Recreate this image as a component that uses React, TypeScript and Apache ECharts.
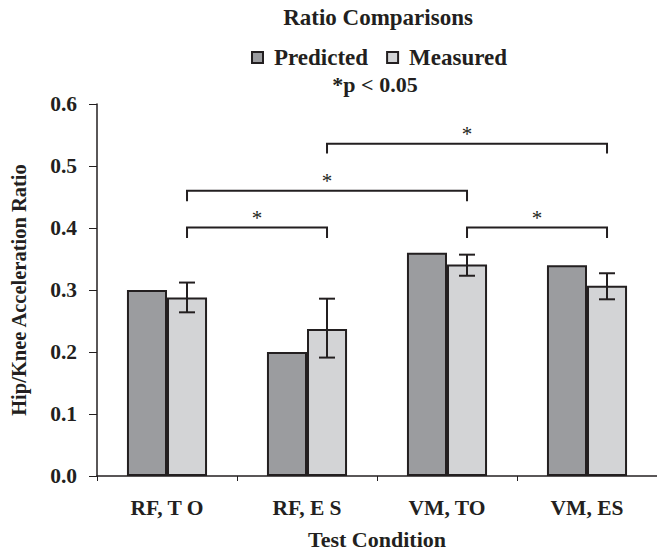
import React, { useEffect, useRef } from "react";
import * as echarts from "echarts";

const categories = ["RF, T O", "RF, E S", "VM, TO", "VM, ES"];
const predicted = [0.3, 0.2, 0.36, 0.34];
const measured = [0.288, 0.237, 0.341, 0.307];
const errLow = [0.264, 0.191, 0.323, 0.285];
const errHigh = [0.312, 0.286, 0.357, 0.327];
// [fromCategory, toCategory, bracketY, dropY]
const brackets = [
  [0, 1, 0.401, 0.384],
  [2, 3, 0.401, 0.384],
  [0, 2, 0.46, 0.443],
  [1, 3, 0.536, 0.52],
];
const yMin = 0;
const yMax = 0.6;
const yInterval = 0.1;

const FONT = "'Liberation Serif', 'Times New Roman', serif";
const INK = "#231f20";
const OFFSET = 0.143;

export default function App() {
  const ref = useRef<HTMLDivElement>(null);
  useEffect(() => {
    if (!ref.current) return;
    const chart = echarts.init(ref.current, null, { renderer: "svg" });
    const errData = categories.map((_, i) => [i, errLow[i], errHigh[i]]);
    chart.setOption({
      animation: false,
      backgroundColor: "#ffffff",
      textStyle: { fontFamily: FONT },
      title: [
        {
          text: "Ratio Comparisons",
          left: 378,
          top: 6,
          textAlign: "center",
          padding: 0,
          textStyle: { fontFamily: FONT, fontWeight: "bold", fontSize: 23, color: INK },
        },
        {
          text: "*p < 0.05",
          left: 375,
          top: 73,
          textAlign: "center",
          padding: 0,
          textStyle: { fontFamily: FONT, fontWeight: "bold", fontSize: 22, color: INK },
        },
      ],
      legend: {
        data: ["Predicted", "Measured"],
        left: 251,
        top: 46,
        padding: 0,
        icon: "rect",
        itemWidth: 11,
        itemHeight: 11,
        itemGap: 18,
        textStyle: { fontFamily: FONT, fontWeight: "bold", fontSize: 23, color: INK, padding: [0, 0, 0, 6] },
      },
      grid: { left: 96, top: 104, width: 566, height: 372.5, containLabel: false },
      xAxis: {
        type: "category",
        data: categories,
        name: "Test Condition",
        nameLocation: "middle",
        nameGap: 52,
        nameTextStyle: { fontFamily: FONT, fontWeight: "bold", fontSize: 22, color: INK },
        axisLine: { lineStyle: { color: INK, width: 1.5 } },
        axisTick: { show: true, length: 5, lineStyle: { color: INK, width: 1 } },
        axisLabel: { margin: 21, fontFamily: FONT, fontWeight: "bold", fontSize: 21.5, color: INK },
      },
      yAxis: {
        type: "value",
        min: yMin,
        max: yMax,
        interval: yInterval,
        name: "Hip/Knee Acceleration Ratio",
        nameLocation: "middle",
        nameGap: 68,
        nameTextStyle: { fontFamily: FONT, fontWeight: "bold", fontSize: 20.5, color: INK },
        splitLine: { show: false },
        axisLine: { show: true, lineStyle: { color: INK, width: 1.5 } },
        axisTick: { show: true, length: 8, lineStyle: { color: INK, width: 1 } },
        axisLabel: {
          margin: 20,
          fontFamily: FONT,
          fontWeight: "bold",
          fontSize: 21.5,
          color: INK,
          formatter: (v: number) => v.toFixed(1),
        },
      },
      series: [
        {
          name: "Predicted",
          type: "bar",
          data: predicted,
          barWidth: "28.6%",
          barGap: "0%",
          itemStyle: { color: "#9b9c9f", borderColor: INK, borderWidth: 2 },
        },
        {
          name: "Measured",
          type: "bar",
          data: measured,
          barWidth: "28.6%",
          barGap: "0%",
          itemStyle: { color: "#d3d4d6", borderColor: INK, borderWidth: 2 },
        },
        {
          type: "custom",
          data: errData,
          encode: { x: 0, y: [1, 2] },
          z: 5,
          renderItem: (params: any, api: any) => {
            const c = api.value(0);
            const lo = api.coord([c, api.value(1)]);
            const hi = api.coord([c, api.value(2)]);
            const bw = api.size([1, 0])[0];
            const x = lo[0] + bw * OFFSET;
            const cap = 8;
            const style = { stroke: INK, lineWidth: 2 };
            return {
              type: "group",
              children: [
                { type: "line", shape: { x1: x, y1: lo[1], x2: x, y2: hi[1] }, style },
                { type: "line", shape: { x1: x - cap, y1: lo[1], x2: x + cap, y2: lo[1] }, style },
                { type: "line", shape: { x1: x - cap, y1: hi[1], x2: x + cap, y2: hi[1] }, style },
              ],
            };
          },
        },
        {
          type: "custom",
          data: brackets,
          encode: { x: [0, 1], y: [2, 3] },
          z: 5,
          clip: false,
          renderItem: (params: any, api: any) => {
            const a = api.coord([api.value(0), api.value(2)]);
            const b = api.coord([api.value(1), api.value(2)]);
            const d = api.coord([api.value(0), api.value(3)]);
            const bw = api.size([1, 0])[0];
            const off = bw * OFFSET;
            const x1 = a[0] + off;
            const x2 = b[0] + off;
            const y = a[1];
            const yd = d[1];
            return {
              type: "group",
              children: [
                {
                  type: "polyline",
                  shape: { points: [[x1, yd], [x1, y], [x2, y], [x2, yd]] },
                  style: { stroke: INK, lineWidth: 2, fill: null },
                },
                {
                  type: "text",
                  x: (x1 + x2) / 2,
                  y: y + 1,
                  style: {
                    text: "*",
                    fontFamily: FONT,
                    fontSize: 21,
                    fontWeight: "normal",
                    fill: INK,
                    align: "center",
                    verticalAlign: "bottom",
                  },
                },
              ],
            };
          },
        },
      ],
    });
    return () => chart.dispose();
  }, []);
  return <div ref={ref} style={{ position: "fixed", left: 0, top: 0, width: 657, height: 555 }} />;
}
